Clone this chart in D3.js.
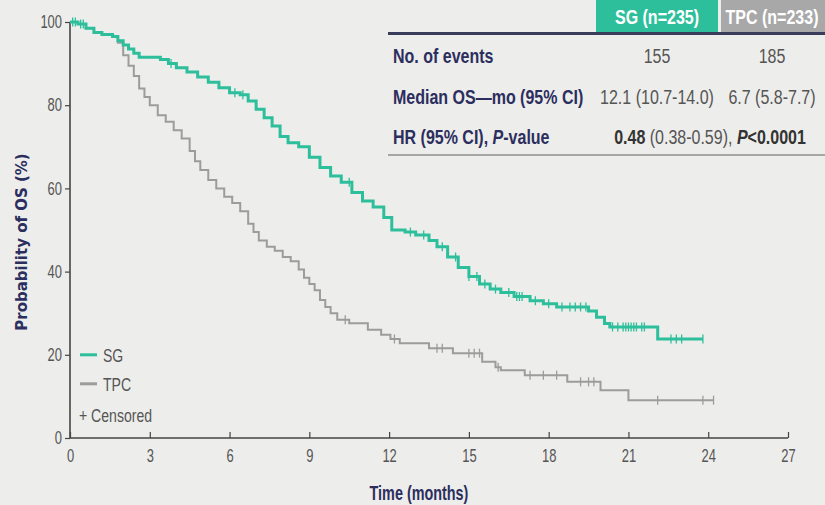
<!DOCTYPE html>
<html>
<head>
<meta charset="utf-8">
<script src="https://cdn.jsdelivr.net/npm/d3@7"></script>
<style>
  body { margin:0; background:#ededeb; }
  svg { display:block; font-family:"Liberation Sans","Arial",sans-serif; }
</style>
</head>
<body>
<div id="chart-area"></div>
<script>
// Kaplan-Meier steps (months, % surviving)
let sgTime = [0,0.3,0.6,0.9,1.2,1.6,1.8,2.0,2.2,2.4,2.6,3.4,3.7,4.0,4.4,4.8,5.2,5.6,6.0,6.4,6.7,7.0,7.3,7.6,7.9,8.2,8.6,9.0,9.4,9.8,10.2,10.6,11.0,11.4,11.8,12.1,12.6,13.0,13.5,13.8,14.2,14.6,15.0,15.4,15.8,16.2,16.7,17.3,17.8,18.3,19.5,19.8,20.1,20.3,22.1,23.8];
let sgSurv = [100,99.5,98.5,97.5,97,96.5,95.5,94.5,93.5,92.5,91.5,91,90,89,88,86.8,85.5,84.2,83,82.5,81,79,77,75,72.5,71,70,67.5,65,63,61.5,59,57,55.5,53,50,49.5,48.8,47.5,46,43.5,41,38.8,37,35.8,35,34,33,32.3,31.5,30.5,29,27.5,26.7,23.8,23.8];
let tpcTime = [0,0.3,0.6,0.9,1.2,1.6,1.8,2.0,2.2,2.4,2.6,2.8,3.0,3.3,3.6,3.9,4.2,4.5,4.7,4.9,5.2,5.5,5.8,6.1,6.4,6.7,6.9,7.1,7.4,7.7,8.0,8.3,8.6,8.8,9.0,9.2,9.4,9.6,9.8,10.05,10.5,11.2,11.7,12.05,12.4,13.5,14.4,15.5,16.0,16.2,17.1,18.7,19.95,21.0,24.2];
let tpcSurv = [100,99.5,98.5,97.5,97,96.5,95,92,89.5,87,84,82,80,77.6,76,74,72,69,66.5,64.4,62,60,58,56.5,54.5,51.5,49.5,47.5,46,45,43.5,42.5,40.5,38.5,37,35.5,33.2,31.5,30,28.4,27.6,26,24.8,23.8,22.8,21.6,20.4,18.3,17,16.3,15.1,13.5,11.5,9.1,9.1];
let sgCensor = [0.1,0.2,0.4,0.5,3.8,6.2,6.5,10.5,12.8,13.3,14.0,14.5,15.0,15.3,15.6,16.0,16.5,16.8,16.9,17.0,17.5,18.0,18.5,18.8,19.0,19.2,19.4,20.4,20.6,20.8,20.9,21.0,21.1,21.2,21.3,21.5,21.6,22.6,22.8,23.0,23.8];
let tpcCensor = [10.35,12.2,13.8,14.0,15.0,15.2,15.4,16.1,17.3,17.8,18.3,19.2,19.5,19.7,22.1,23.8,24.2];

let xTicks = [0,3,6,9,12,15,18,21,24,27];
let yTicks = [0,20,40,60,80,100];

let tableHead = ["SG (n=235)", "TPC (n=233)"];
let tableRows = ["No. of events", "Median OS\u2014mo (95% CI)"];
let sgCells = ["155", "12.1 (10.7-14.0)"];
let tpcCells = ["185", "6.7 (5.8-7.7)"];

let teal = "#2dbf9b", grey = "#9c9c9c", navy = "#2c2e5e", txt = "#555";

// no narrow font installed, so squeeze text horizontally with a scale
function squeeze(sel, k) {
  sel.each(function() {
    let t = d3.select(this);
    let tx = +t.attr("x") || 0, ty = +t.attr("y") || 0;
    t.attr("x", 0).attr("y", 0)
      .attr("transform", "translate(" + tx + "," + ty + ") scale(" + k + ",1)");
  });
}

let margin = {left:70, right:37, top:22, bottom:67};
let width = 825 - margin.left - margin.right;
let height = 505 - margin.top - margin.bottom;

let svg = d3.select("#chart-area").append("svg")
  .attr("width", 825).attr("height", 505);

let g = svg.append("g")
  .attr("transform", "translate(" + margin.left + "," + margin.top + ")");

let x = d3.scaleLinear().domain([0,27]).range([0,width]);
let y = d3.scaleLinear().domain([0,100]).range([height,0]);

// axes
let xAxis = g.append("g")
  .attr("transform", "translate(0," + height + ")")
  .call(d3.axisBottom(x).tickValues(xTicks).tickSize(-6).tickPadding(11));
let yAxis = g.append("g")
  .call(d3.axisLeft(y).tickValues(yTicks).tickSize(5).tickPadding(3));
[xAxis, yAxis].forEach(a => {
  a.select(".domain").attr("stroke", "#444").attr("stroke-width", 1.6);
  a.selectAll(".tick line").attr("stroke", "#444").attr("stroke-width", 1.2);
  a.selectAll(".tick text").attr("fill", txt).attr("font-size", "18px")
    .attr("font-family", "Liberation Sans, Arial, sans-serif");
  squeeze(a.selectAll(".tick text"), 0.72);
});
xAxis.select(".domain").attr("d", "M0,0H" + width);
yAxis.select(".domain").attr("d", "M0,0V" + height);

g.append("text")
  .attr("x", width/2 - 10).attr("y", height + 62)
  .attr("text-anchor", "middle").attr("font-size", "20px").attr("font-weight", "bold")
  .attr("fill", navy).text("Time (months)")
  .call(squeeze, 0.72);

g.append("text")
  .attr("transform", "rotate(-90)")
  .attr("x", -(height/2) - 12).attr("y", -43)
  .attr("text-anchor", "middle").attr("font-size", "15px").attr("font-weight", "bold")
  .attr("font-family", "DejaVu Sans, sans-serif")
  .attr("fill", navy).text("Probability of OS (%)");

// curves
let step = d3.line().x(d => x(d[0])).y(d => y(d[1])).curve(d3.curveStepAfter);
function survAt(times, surv, t) {
  let i = d3.bisectRight(times, t) - 1;
  return surv[Math.max(0, i)];
}
let series = [
  {time: tpcTime, surv: tpcSurv, cens: tpcCensor, color: grey, w: 2},
  {time: sgTime, surv: sgSurv, cens: sgCensor, color: teal, w: 3}
];
series.forEach(s => {
  g.append("path")
    .datum(d3.zip(s.time, s.surv))
    .attr("fill", "none").attr("stroke", s.color).attr("stroke-width", s.w)
    .attr("d", step);
  g.selectAll(null).data(s.cens).enter().append("line")
    .attr("x1", d => x(d)).attr("x2", d => x(d))
    .attr("y1", d => y(survAt(s.time, s.surv, d)) - 4.5)
    .attr("y2", d => y(survAt(s.time, s.surv, d)) + 4.5)
    .attr("stroke", s.color).attr("stroke-width", 1.3);
});

// legend
let leg = g.append("g").attr("transform", "translate(10," + y(20) + ")");
[["SG", teal], ["TPC", grey]].forEach((d, i) => {
  leg.append("line").attr("x1", 0).attr("x2", 17).attr("y1", i*29).attr("y2", i*29)
    .attr("stroke", d[1]).attr("stroke-width", 3);
  leg.append("text").attr("x", 23).attr("y", i*29 + 7)
    .attr("font-size", "19px").attr("fill", txt).text(d[0]).call(squeeze, 0.74);
});
leg.append("text").attr("x", -1).attr("y", 67)
  .attr("font-size", "19px").attr("fill", txt).text("+ Censored").call(squeeze, 0.74);

// table
let tb = svg.append("g");
let colX = [657, 772];
tb.append("rect").attr("x", 596).attr("y", 0).attr("width", 122).attr("height", 33).attr("fill", teal);
tb.append("rect").attr("x", 721).attr("y", 0).attr("width", 104).attr("height", 33).attr("fill", "#a8a8a8");
tableHead.forEach((h, i) => {
  tb.append("text").attr("x", colX[i]).attr("y", 24).attr("text-anchor", "middle")
    .attr("font-size", "20px").attr("font-weight", "bold").attr("fill", "#fff").text(h)
    .call(squeeze, 0.8);
});
tb.append("line").attr("x1", 388).attr("x2", 825).attr("y1", 33.5).attr("y2", 33.5)
  .attr("stroke", "#3a3c5c").attr("stroke-width", 3);
tb.append("line").attr("x1", 388).attr("x2", 825).attr("y1", 155).attr("y2", 155)
  .attr("stroke", "#a6a6a6").attr("stroke-width", 2);
tableRows.forEach((r, i) => {
  let yy = 63 + i*41;
  tb.append("text").attr("x", 393).attr("y", yy).attr("font-size", "20px")
    .attr("font-weight", "bold").attr("fill", navy).text(r).call(squeeze, 0.8);
  tb.append("text").attr("x", colX[0]).attr("y", yy).attr("text-anchor", "middle")
    .attr("font-size", "20px").attr("fill", txt).text(sgCells[i]).call(squeeze, 0.8);
  tb.append("text").attr("x", colX[1]).attr("y", yy).attr("text-anchor", "middle")
    .attr("font-size", "20px").attr("fill", txt).text(tpcCells[i]).call(squeeze, 0.8);
});
let hr = tb.append("text").attr("x", 393).attr("y", 144).attr("font-size", "20px")
  .attr("font-weight", "bold").attr("fill", navy);
hr.append("tspan").text("HR (95% CI), ");
hr.append("tspan").attr("font-style", "italic").text("P");
hr.append("tspan").text("-value");
squeeze(hr, 0.8);
let hv = tb.append("text").attr("x", 710).attr("y", 144).attr("text-anchor", "middle")
  .attr("font-size", "20px").attr("fill", txt);
hv.append("tspan").attr("font-weight", "bold").attr("fill", "#333").text("0.48");
hv.append("tspan").text(" (0.38-0.59), ");
hv.append("tspan").attr("font-weight", "bold").attr("font-style", "italic").attr("fill", "#333").text("P");
hv.append("tspan").attr("font-weight", "bold").attr("fill", "#333").text("<0.0001");
squeeze(hv, 0.8);
</script>
</body>
</html>
